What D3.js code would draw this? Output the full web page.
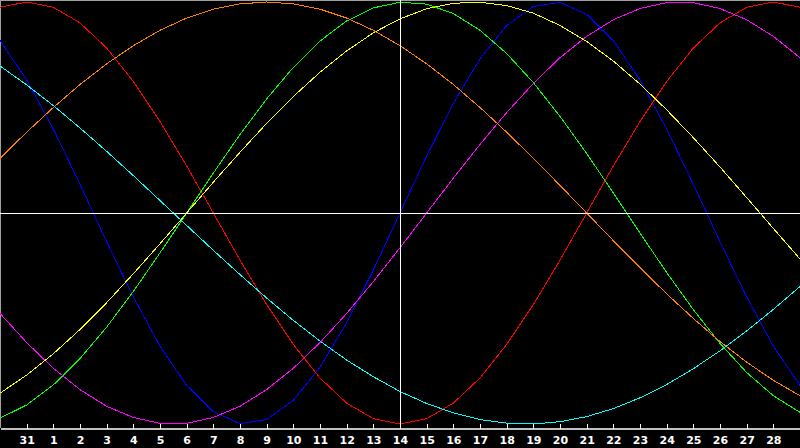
<!DOCTYPE html>
<html>
<head>
<meta charset="utf-8">
<script src="https://cdn.jsdelivr.net/npm/d3@7"></script>
<style>
  html, body { margin: 0; padding: 0; background: #000; }
  svg { display: block; }
</style>
</head>
<body>
<svg id="chart"></svg>
<script>
// day of month for each plotted day (index 0..30)
const dayLabels = ["30", "31", "1", "2", "3", "4", "5", "6", "7", "8", "9", "10", "11", "12", "13", "14",
    "15", "16", "17", "18", "19", "20", "21", "22", "23", "24", "25", "26", "27", "28", "29"];

// cycle values, -1..1, one per day
const physical = [0.817, 0.631, 0.398, 0.136, -0.136, -0.398, -0.631, -0.817, -0.942, -0.998, -0.979,
    -0.888, -0.731, -0.520, -0.270, 0, 0.270, 0.520, 0.731, 0.888, 0.979, 0.998, 0.942, 0.817, 0.631,
    0.398, 0.136, -0.136, -0.398, -0.631, -0.817];
const emotional = [0.975, 1, 0.975, 0.901, 0.782, 0.623, 0.434, 0.223, 0, -0.223, -0.434, -0.623,
    -0.782, -0.901, -0.975, -1, -0.975, -0.901, -0.782, -0.623, -0.434, -0.223, 0, 0.223, 0.434,
    0.623, 0.782, 0.901, 0.975, 1, 0.975];
const intellectual = [-0.972, -0.910, -0.815, -0.690, -0.541, -0.372, -0.189, 0, 0.189, 0.372, 0.541,
    0.690, 0.815, 0.910, 0.972, 0.999, 0.990, 0.945, 0.866, 0.756, 0.618, 0.458, 0.282, 0.095, -0.095,
    -0.282, -0.458, -0.618, -0.756, -0.866, -0.945];
const intuitive = [-0.476, -0.614, -0.736, -0.837, -0.916, -0.969, -0.997, -0.997, -0.969, -0.916,
    -0.837, -0.736, -0.614, -0.476, -0.325, -0.165, 0, 0.165, 0.325, 0.476, 0.614, 0.736, 0.837,
    0.916, 0.969, 0.997, 0.997, 0.969, 0.916, 0.837, 0.736];
const aesthetic = [-0.854, -0.768, -0.667, -0.552, -0.425, -0.288, -0.146, 0, 0.146, 0.288, 0.425,
    0.552, 0.667, 0.768, 0.854, 0.920, 0.968, 0.994, 0.999, 0.983, 0.947, 0.889, 0.813, 0.720, 0.611,
    0.489, 0.357, 0.218, 0.073, -0.073, -0.218];
const awareness = [0.259, 0.383, 0.5, 0.609, 0.707, 0.793, 0.866, 0.924, 0.966, 0.991, 1, 0.991,
    0.966, 0.924, 0.866, 0.793, 0.707, 0.609, 0.5, 0.383, 0.259, 0.131, 0, -0.131, -0.259, -0.383,
    -0.5, -0.609, -0.707, -0.793, -0.866];
const spiritual = [0.697, 0.607, 0.509, 0.403, 0.292, 0.177, 0.059, -0.059, -0.177, -0.292, -0.403,
    -0.509, -0.607, -0.697, -0.776, -0.846, -0.903, -0.947, -0.979, -0.996, -1, -0.989, -0.965,
    -0.927, -0.876, -0.813, -0.738, -0.653, -0.559, -0.457, -0.348];

const todayIndex = 15; // "14"

const series = [
    {values: physical, color: "#0000ff"},
    {values: emotional, color: "#ff0000"},
    {values: intellectual, color: "#00ff00"},
    {values: intuitive, color: "#ff00ff"},
    {values: aesthetic, color: "#ffff00"},
    {values: awareness, color: "#ff8000"},
    {values: spiritual, color: "#00ffff"}
];

const width = 800,
    height = 448,
    axisY = 428;

const svg = d3.select("#chart")
    .attr("width", width)
    .attr("height", height)
    .style("background", "#000");

const xScale = d3.scaleLinear()
    .domain([0, dayLabels.length - 1])
    .range([0, width]);

const yScale = d3.scaleLinear()
    .domain([-1, 1])
    .range([424, 2]);

// frame on top / left
svg.append("line")
    .attr("x1", 0).attr("x2", width).attr("y1", 0.5).attr("y2", 0.5)
    .attr("stroke", "#a0a0a0");
svg.append("line")
    .attr("x1", 0.5).attr("x2", 0.5).attr("y1", 0).attr("y2", axisY)
    .attr("stroke", "#a0a0a0");

const line = d3.line()
    .x((d, i) => xScale(i))
    .y(d => yScale(d));

svg.append("g")
    .selectAll("path")
    .data(series)
    .enter().append("path")
    .attr("d", d => line(d.values))
    .attr("fill", "none")
    .attr("stroke", d => d.color)
    .attr("stroke-width", 1)
    .attr("shape-rendering", "crispEdges");

// zero line and today marker
svg.append("line")
    .attr("x1", 0).attr("x2", width)
    .attr("y1", Math.round(yScale(0)) + 0.5).attr("y2", Math.round(yScale(0)) + 0.5)
    .attr("stroke", "#ffffff")
    .attr("shape-rendering", "crispEdges");
svg.append("line")
    .attr("x1", xScale(todayIndex) + 0.5).attr("x2", xScale(todayIndex) + 0.5)
    .attr("y1", 0).attr("y2", axisY)
    .attr("stroke", "#ffffff")
    .attr("shape-rendering", "crispEdges");

// day axis
const xAxis = d3.axisBottom(xScale)
    .tickValues(d3.range(1, dayLabels.length - 1))
    .tickFormat(i => dayLabels[i])
    .tickSizeInner(-5)
    .tickSizeOuter(0);

const axisG = svg.append("g")
    .attr("transform", "translate(0," + (axisY + 0.5) + ")")
    .call(xAxis);

axisG.select(".domain")
    .attr("stroke", "#c0c0c0")
    .attr("stroke-width", 1.5)
    .attr("shape-rendering", "crispEdges");
axisG.selectAll(".tick line")
    .attr("stroke", "#ffffff")
    .attr("shape-rendering", "crispEdges");
axisG.selectAll(".tick text")
    .attr("y", 15.5)
    .attr("dy", null)
    .attr("fill", "#ffffff")
    .style("font-family", "'DejaVu Sans', sans-serif")
    .style("font-weight", "bold")
    .style("font-size", "11px");
</script>
</body>
</html>
